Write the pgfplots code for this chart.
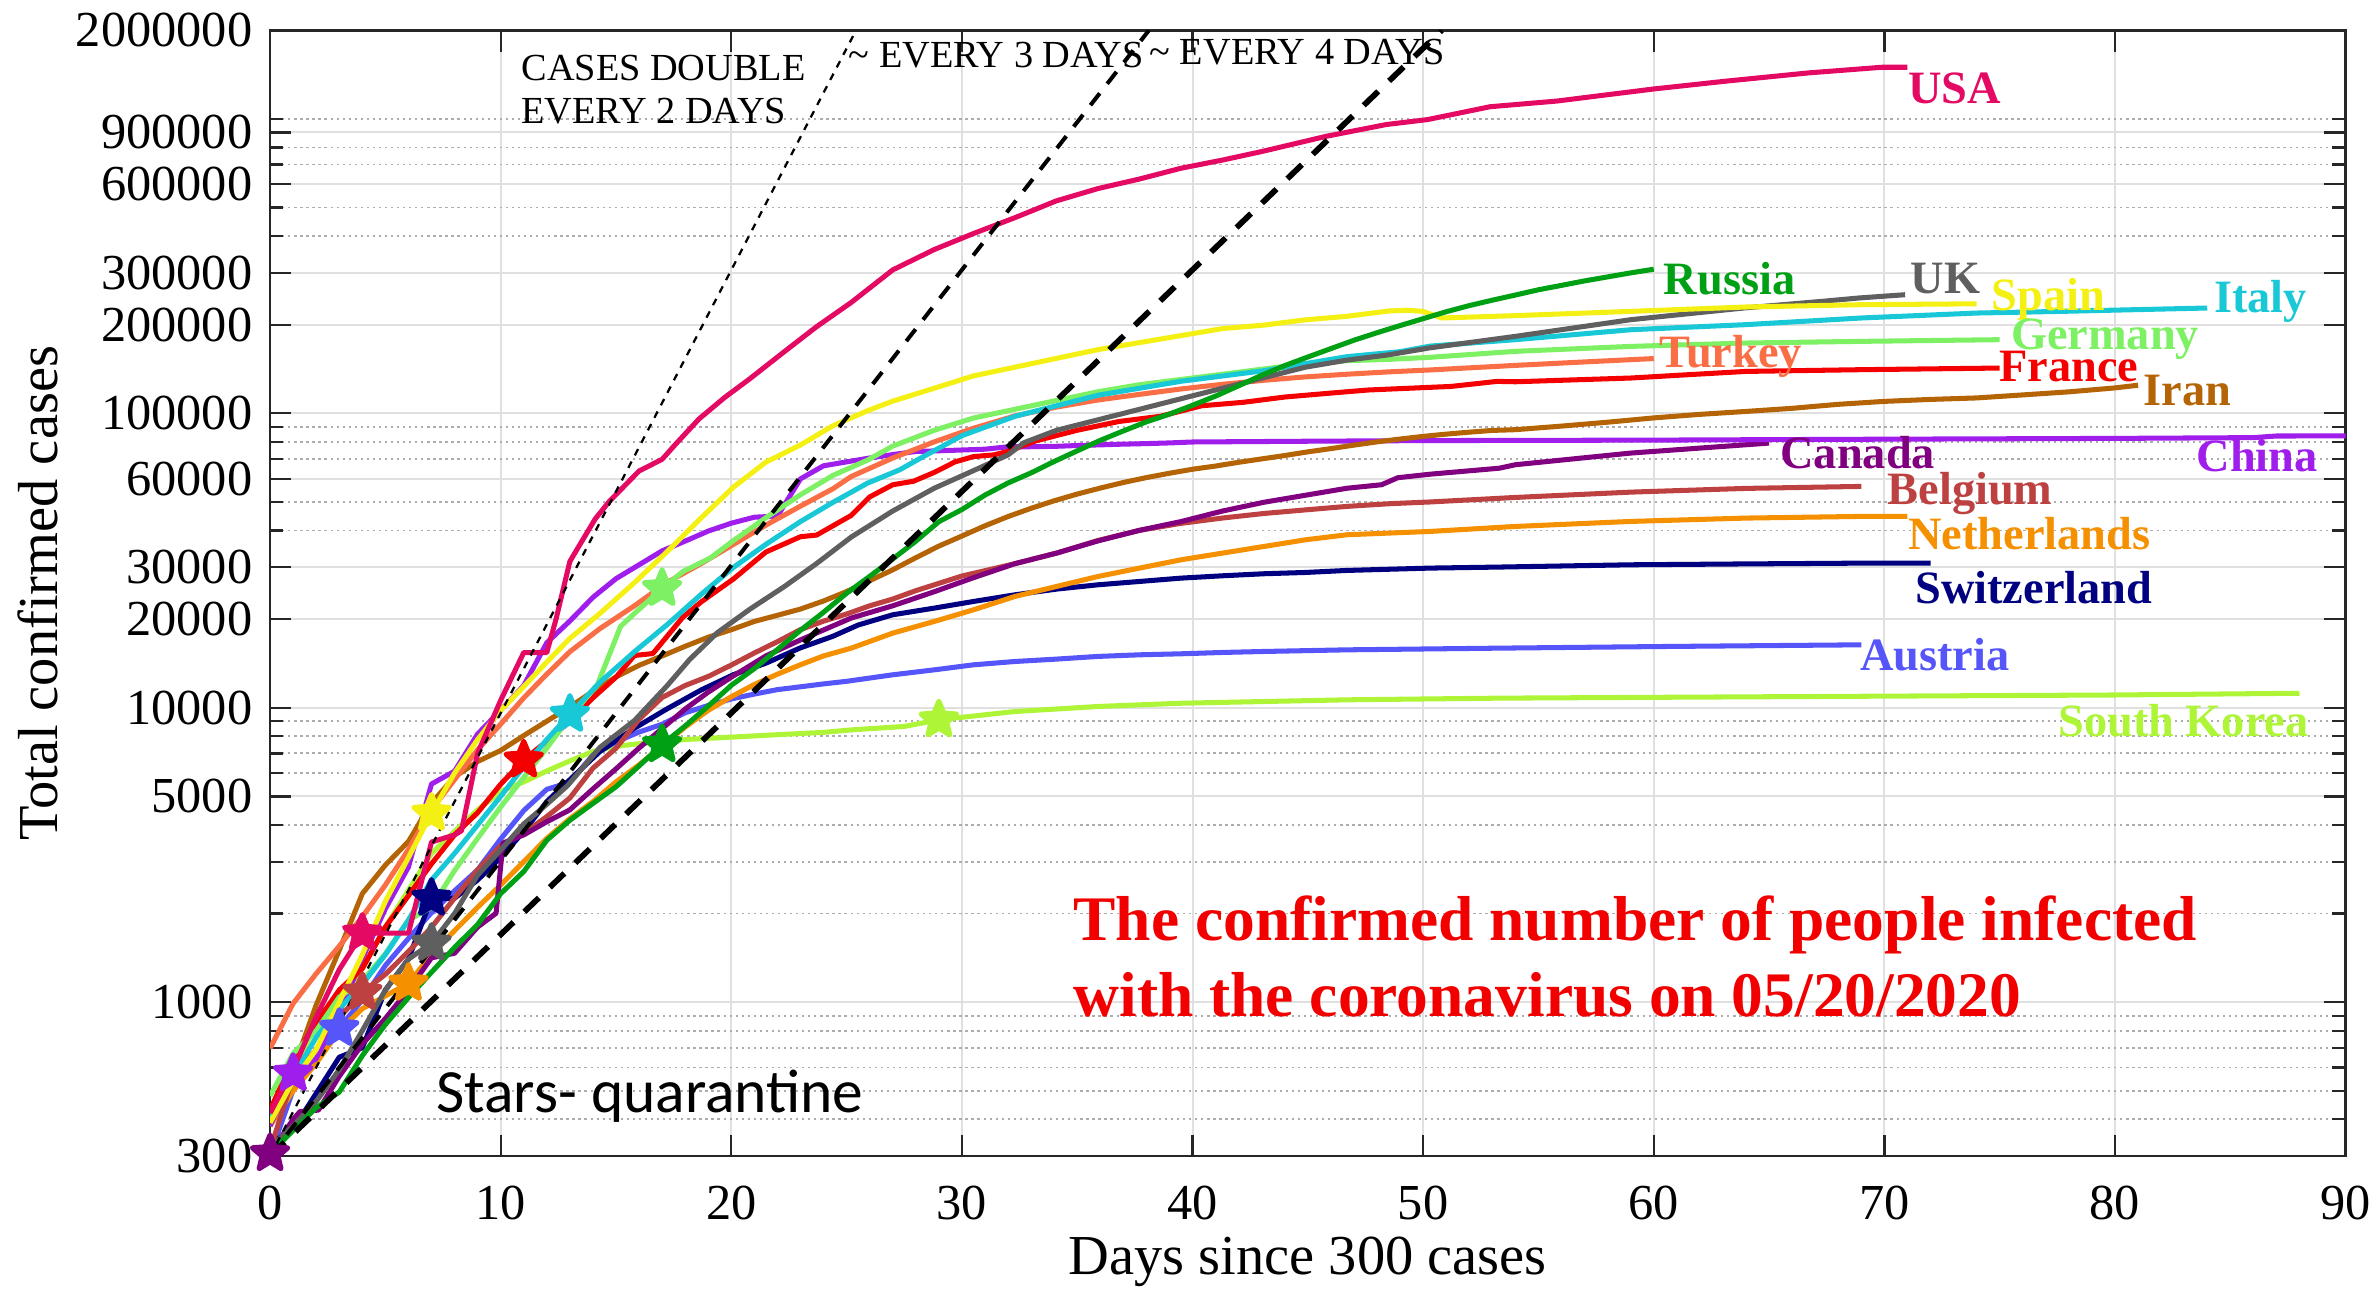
\documentclass[border=0pt]{standalone}
\usepackage{pgfplots}
\pgfplotsset{compat=1.18}
\usepackage{fontspec}
\setmainfont{Liberation Serif}
\newfontfamily\notefont{Carlito}

\definecolor{cUSA}{RGB}{228,10,100}
\definecolor{cRussia}{RGB}{0,160,20}
\definecolor{cUK}{RGB}{95,95,95}
\definecolor{cSpain}{RGB}{245,240,20}
\definecolor{cItaly}{RGB}{25,200,215}
\definecolor{cGermany}{RGB}{125,240,100}
\definecolor{cTurkey}{RGB}{250,110,70}
\definecolor{cFrance}{RGB}{245,0,0}
\definecolor{cIran}{RGB}{180,100,5}
\definecolor{cChina}{RGB}{160,30,235}
\definecolor{cCanada}{RGB}{128,0,128}
\definecolor{cBelgium}{RGB}{190,65,65}
\definecolor{cNether}{RGB}{245,145,0}
\definecolor{cSwiss}{RGB}{0,0,128}
\definecolor{cAustria}{RGB}{85,85,250}
\definecolor{cKorea}{RGB}{175,245,55}
\definecolor{axisgray}{RGB}{38,38,38}

% filled five-pointed star for the quarantine dates
\pgfdeclareplotmark{filledstar}{%
  \pgfpathmoveto{\pgfpointpolar{90}{\pgfplotmarksize}}%
  \pgfpathlineto{\pgfpointpolar{126}{0.45*\pgfplotmarksize}}%
  \pgfpathlineto{\pgfpointpolar{162}{\pgfplotmarksize}}%
  \pgfpathlineto{\pgfpointpolar{198}{0.45*\pgfplotmarksize}}%
  \pgfpathlineto{\pgfpointpolar{234}{\pgfplotmarksize}}%
  \pgfpathlineto{\pgfpointpolar{270}{0.45*\pgfplotmarksize}}%
  \pgfpathlineto{\pgfpointpolar{306}{\pgfplotmarksize}}%
  \pgfpathlineto{\pgfpointpolar{342}{0.45*\pgfplotmarksize}}%
  \pgfpathlineto{\pgfpointpolar{18}{\pgfplotmarksize}}%
  \pgfpathlineto{\pgfpointpolar{54}{0.45*\pgfplotmarksize}}%
  \pgfpathclose
  \pgfusepathqfillstroke
}

\tikzset{
  clab/.style={font=\fontsize{9.2}{11}\selectfont\bfseries, anchor=west, inner sep=0pt, text height=6.1bp, text depth=0pt},
  ann/.style={font=\fontsize{7.6}{9}\selectfont, anchor=west, inner sep=0pt, text height=5.0bp, text depth=0pt},
  qstar/.style={only marks, mark=filledstar, mark size=3.7pt},
}

\begin{document}
\begin{tikzpicture}
\begin{axis}[
  scale only axis,
  width=410.4bp, height=222.6bp,
  xmin=0, xmax=90, ymin=300, ymax=2000000,
  ymode=log,
  clip mode=individual,
  xtick={0,10,20,30,40,50,60,70,80,90},
  xticklabels={0,10,20,30,40,50,60,70,80,90},
  ytick={300,1000,5000,10000,20000,30000,60000,100000,200000,300000,600000,900000,2000000},
  yticklabels={300,1000,5000,10000,20000,30000,60000,100000,200000,300000,600000,900000,2000000},
  minor ytick={400,500,600,700,800,900,2000,3000,4000,6000,7000,8000,9000,40000,50000,70000,80000,90000,400000,500000,700000,800000,1000000},
  xmajorgrids, ymajorgrids, yminorgrids,
  major grid style={draw=black!12, line width=0.4pt},
  minor grid style={draw=black!32, line width=0.35pt, dash pattern=on 0.45pt off 0.75pt},
  tick align=inside,
  tick pos=both,
  major tick length=4.2bp, minor tick length=2.6bp,
  tick style={draw=axisgray, line width=0.45pt},
  axis line style={draw=axisgray, line width=0.5pt},
  ticklabel style={font=\fontsize{10}{12}\selectfont, text=black},
  xticklabel shift=2.4bp,
  xlabel={Days since 300 cases},
  ylabel={Total confirmed cases},
  label style={font=\fontsize{11.2}{13}\selectfont},
  xlabel style={at={(axis description cs:0.5,-0.0943)}, anchor=center},
  ylabel style={at={(axis description cs:-0.1118,0.5)}, anchor=center},
  every axis plot/.append style={line width=1.0pt, line join=round},
]

% ---- countries ----
\addplot[color=cKorea] coordinates {(0,430)(1,600)(2,830)(3,1000)(4,1300)(5,1800)(6,2400)(7,3200)(8,3800)(9,4500)(10,5200)(11,5600)(12,6100)(13,6600)(14,7100)(15,7400)(16,7550)(17,7650)(18,7800)(20,7950)(22,8100)(24,8250)(25.2,8410)(27.5,8640)(29,9100)(32.3,9710)(35.9,10100)(39.5,10360)(43.1,10500)(46.7,10640)(53.3,10780)(60,10850)(70,10950)(80,11050)(88,11200)};

\addplot[color=cAustria] coordinates {(0,302)(1,504)(2,655)(3,815)(4,1018)(5,1332)(6,1646)(7,2013)(8,2388)(9,2814)(10,3582)(11,4474)(12,5283)(13,5588)(14,6909)(15,7657)(16,8271)(17,8788)(18,9618)(19,10180)(20,10711)(21,11129)(22,11524)(23,11781)(24,12051)(25,12297)(27,12940)(28.8,13450)(30.5,13990)(32.3,14360)(34.1,14630)(35.9,14940)(37.7,15130)(39.5,15250)(41.3,15410)(43.1,15530)(46.7,15730)(53.3,15940)(60.6,16150)(69,16360)};

\addplot[color=cSwiss] coordinates {(0,330)(1,370)(2,490)(3,650)(4,700)(5,1100)(6,1400)(7,2254)(8,2254)(9,2600)(10,3100)(11,3800)(12,4800)(12.9,5600)(14.3,7100)(15.8,8520)(17.2,9900)(18.7,11500)(20.1,12960)(21.5,14170)(23,15980)(24.4,17480)(25.5,19100)(27,20690)(28.8,21800)(30.5,22960)(32.3,24190)(34.1,25290)(35.9,26160)(37.7,26850)(39.5,27560)(41.3,28070)(43.1,28520)(44.9,28810)(46.7,29270)(50.3,29810)(53.3,30050)(59,30590)(64,30800)(69,30990)(72,30990)};

\addplot[color=cNether] coordinates {(0,380)(1,500)(2,620)(3,800)(4,950)(5,1050)(6,1159)(7,1450)(8,1750)(9,2100)(10,2500)(11,3000)(12,3600)(13,4200)(14,4800)(15,5600)(16,6400)(17,7400)(18,8600)(19,9800)(20,10900)(21,12000)(22,13000)(23,14000)(24,15000)(25.2,15940)(27,17930)(28.8,19640)(30.5,21510)(32.3,23880)(34.1,25820)(35.9,27920)(37.7,29810)(39.5,31810)(41.3,33520)(43.1,35310)(44.9,37200)(46.7,38690)(48.5,39200)(50.3,39710)(54,41290)(59,42940)(64,44080)(69,44660)(71,44660)};

\addplot[color=cBelgium] coordinates {(0,314)(1,559)(2,689)(3,886)(4,1080)(5,1243)(6,1486)(7,1795)(8,2257)(9,2815)(10,3401)(11,3743)(12,4269)(13,4937)(14,6235)(15,7284)(16,9134)(17,10836)(18,11899)(19,12775)(20,13964)(21,15348)(22,16770)(23,18431)(24,19691)(25,20814)(26,22194)(27,23403)(28,24983)(30,28018)(32.3,30860)(34.1,33510)(35.9,37000)(37.7,40050)(39.5,42300)(41.3,44100)(43.1,45700)(44.9,47000)(46.7,48300)(48.5,49300)(50.3,50000)(54,51800)(59,54000)(64,55600)(69,56470)};

\addplot[color=cCanada] coordinates {(0,306)(1,400)(1.3,425)(2.1,430)(3,560)(4,720)(5,880)(6,1100)(7,1415)(8,1466)(9,1800)(9.8,2004)(10.1,3470)(11,3700)(12,4100)(13,4500)(14,5300)(15,6200)(16,7300)(17,8500)(18,9900)(19,11300)(20,12700)(21.5,15000)(23,17000)(25.2,20170)(27,22200)(28.8,24780)(30.5,27650)(32.3,30860)(34.1,33510)(35.9,36880)(37.7,40050)(39.5,42890)(41.3,46580)(43.1,49890)(44.9,52710)(46.7,55670)(48.2,57220)(48.9,60440)(50.3,62130)(53.3,65110)(54,66900)(59,73290)(65,79250)};

\addplot[color=cChina] coordinates {(0,380)(1,573)(2,643)(3,920)(4,1406)(5,2075)(6,2877)(7,5509)(8,6087)(9,8141)(10,9802)(11,11891)(12,16630)(13,19716)(14,23707)(15,27440)(16,30587)(17,34110)(18,36814)(19,39829)(20,42354)(21,44386)(22,44759)(23,59895)(24,66358)(25,68413)(26,70513)(27,72434)(28,74211)(29,74619)(30,75077)(31,75550)(32,77001)(33,77022)(34,77241)(35,77754)(36,78166)(37,78600)(38,78928)(39,79356)(40,79932)(45,80400)(50,80800)(60,81100)(70,81700)(80,82200)(86,82700)(87,83760)(90,83800)};

\addplot[color=cIran] coordinates {(0,388)(1,593)(2,978)(3,1501)(4,2336)(5,2922)(6,3513)(7,4747)(8,5823)(9,6566)(10,7161)(11,8042)(12,9000)(13,10075)(14,11364)(15,12729)(16,13938)(17,14991)(18,16169)(19,17361)(20,18407)(21,19644)(22,20610)(23,21638)(24,23049)(25,24811)(26,27017)(27,29406)(28,32332)(29,35408)(30,38309)(31,41495)(32,44605)(33,47593)(34,50468)(35,53183)(36,55743)(37,58226)(38,60500)(39,62589)(40,64586)(41,66220)(42,68192)(43,70029)(44,71900)(45,74000)(46,75900)(47,78000)(48,80000)(49,81800)(50,83500)(51,85000)(52,86300)(53,87500)(54,88000)(56,90500)(58,93300)(60,96500)(62,99200)(64,101500)(66,104000)(68,107300)(70,109800)(72,111500)(74,112800)(76,115500)(78,118300)(80,122000)(81,124600)};

\addplot[color=cFrance] coordinates {(0,430)(1,640)(2,850)(3,1100)(4,1300)(5,1800)(6,2300)(7,2950)(8,3700)(9,4400)(10,5500)(11,6650)(12,7700)(13,9000)(14,10800)(15,12700)(15.8,15050)(16.6,15280)(17.9,20300)(18.7,22900)(20.1,27400)(21.5,33800)(23,38100)(23.7,38600)(25.2,45000)(26,52000)(27,57200)(27.9,58800)(28.8,63000)(29.7,68400)(30.5,71300)(31.4,72300)(32,74300)(33.2,80600)(35,87600)(36.8,93800)(38.6,97700)(39.5,101800)(40.4,106100)(42.2,109000)(44,113600)(45.8,116800)(47.6,120000)(49.4,121700)(51.2,123400)(52.3,126100)(53.2,128400)(54,128000)(59,131800)(61.5,135300)(64,138800)(69,140700)(75,142500)};

\addplot[color=cTurkey] coordinates {(0,697)(1,990)(2,1250)(3,1550)(4,1950)(5,2500)(6,3300)(7,4500)(8,5700)(9,7200)(10,8800)(11,10800)(12,13000)(13,15500)(14.3,18560)(15.8,22200)(17.2,26600)(18.7,30900)(20.1,35900)(21.5,41700)(23,48400)(24.4,55400)(25.2,61000)(27,70500)(28.8,80000)(30.5,89000)(32.3,98000)(34.1,105000)(35.9,111000)(37.7,116000)(39.5,121000)(41.3,125500)(43.1,129500)(44.9,133000)(46.7,135800)(48.5,138300)(50.3,140400)(54,145500)(57,149500)(60,153500)};

\addplot[color=cGermany] coordinates {(0,480)(1,670)(2,800)(3,1040)(4,1180)(5,1460)(6,1900)(7,2100)(8,2800)(9,3600)(10,4600)(11,5800)(12,7300)(13,9300)(14.2,12000)(15.2,18900)(15.8,20900)(17,25420)(17.9,29000)(19.1,32300)(20.1,37000)(21.5,44200)(23,52900)(24.4,61500)(25.9,69300)(27,77400)(28.8,87600)(30.5,96400)(32.3,103200)(34.1,110600)(35.9,118400)(37.7,125100)(39.5,130300)(41.3,135800)(43.1,141500)(44.9,147500)(46.7,151000)(48.5,152500)(50.3,155000)(54,162400)(59,168800)(64,173300)(69,175600)(75,177900)};

\addplot[color=cItaly] coordinates {(0,400)(1,560)(2,760)(3,950)(4,1150)(5,1450)(6,1900)(7,2600)(8,3200)(9,4000)(10,5000)(11,6300)(12,7800)(13,9500)(14.3,12200)(15.8,15500)(17.2,19100)(18.7,24300)(20.1,30000)(21.5,35900)(23,42900)(24.4,49800)(25.9,57900)(27.3,64300)(28.2,70400)(30,84000)(32.3,97700)(35.9,115200)(39.5,128500)(43.1,139600)(46.7,155800)(49,162000)(50.3,169200)(54,177900)(59,192300)(64,200100)(69,210800)(74,219100)(77.7,222000)(84,227900)};

\addplot[color=cUK] coordinates {(0,320)(1,380)(2,460)(3,590)(4,800)(5,1100)(6,1400)(7,1585)(8,2000)(9,2700)(10,3290)(11,4030)(12,4700)(12.9,5440)(14.3,7330)(15.8,9050)(17.2,11840)(18.2,14600)(19.4,18000)(20.8,21600)(22.3,25800)(23.7,30900)(25.2,38000)(27,46580)(28.8,55670)(30.5,63870)(32,72260)(32.7,79560)(34.1,87560)(35.9,95070)(37.7,103200)(39.5,112100)(41.3,121700)(43.1,132200)(44.9,143500)(46.7,151600)(48.5,158000)(50.3,166900)(54,182600)(59,208000)(63.9,227900)(67.3,240100)(68.9,246500)(70.9,252900)};

\addplot[color=cSpain] coordinates {(0,390)(1,540)(2,690)(3,1000)(4,1450)(5,2200)(6,3100)(7,4385)(8,6000)(9,7800)(10,9800)(11,11800)(12,14300)(13,17200)(14.3,20900)(15.8,26600)(17.2,33800)(18.7,44200)(20.1,56200)(21.5,68300)(23,78100)(24.4,90700)(25.9,102000)(27,110000)(28.8,121700)(30.5,134000)(32.3,143500)(34.1,153700)(35.9,164600)(37.7,173900)(39.5,183700)(41.3,194100)(43.1,199400)(44.9,207800)(46.7,213600)(48.5,222600)(49.3,224000)(50,222000)(50.8,210800)(54,214700)(59,222000)(64,229700)(69,233900)(74,235500)};

\addplot[color=cRussia] coordinates {(0,306)(1,367)(2,438)(3,495)(4,658)(5,840)(6,1036)(7,1264)(8,1534)(9,1836)(10,2337)(11,2777)(12,3548)(13,4149)(14,4731)(15,5389)(16,6343)(17,7497)(18,8672)(19,10131)(20,11917)(21,13584)(22,15770)(23,18328)(24,21102)(25,24490)(26,27938)(27,32008)(28,36793)(29,42853)(30,47121)(31,52763)(32,57999)(33,62773)(34,68622)(35,74588)(36,80949)(37,87147)(38,93558)(39,99399)(40,106498)(41,114431)(42,124054)(43,134686)(44,145268)(45,155370)(46,165929)(47,177160)(48,187859)(49,198676)(50,209688)(51,221344)(52,232243)(53,242271)(54,252245)(55,262843)(56,272043)(57,281752)(58,290678)(59,299941)(60,308705)};

\addplot[color=cUSA] coordinates {(0,420)(1,590)(2,890)(3,1290)(4,1715)(5,1715)(6,1715)(7,3500)(8,3700)(8.3,3820)(9,7000)(10,10600)(11,15400)(12,15400)(12.4,20000)(13,31400)(13.3,34400)(14.1,43800)(14.7,50100)(16,63700)(17,69800)(17.6,78800)(18.6,95700)(19.7,113000)(20.8,131000)(22.3,162000)(23.7,197000)(25.2,238000)(27,307000)(28.8,360000)(30.5,408000)(32.3,462000)(34.1,527000)(35.9,580000)(37.7,625000)(39.5,680000)(41.3,725000)(43,775000)(45.8,873000)(48.4,957000)(50.2,995000)(52.9,1100000)(55.8,1150000)(60,1264000)(63.1,1343000)(66.7,1433000)(69.9,1498000)(71,1498000)};

% ---- reference doubling lines ----
\addplot[black, line width=0.45pt, dash pattern=on 1.4pt off 1.4pt] coordinates {(0,300)(25.41,2000000)};
\addplot[black, line width=0.8pt, dash pattern=on 3pt off 2.4pt] coordinates {(0,300)(38.11,2000000)};
\addplot[black, line width=1.15pt, dash pattern=on 4pt off 3pt] coordinates {(0,300)(50.81,2000000)};

% ---- quarantine dates ----
\addplot[qstar, color=cCanada] coordinates {(0,306)};
\addplot[qstar, color=cChina] coordinates {(1,573)};
\addplot[qstar, color=cAustria] coordinates {(3,815)};
\addplot[qstar, color=cUSA] coordinates {(4,1715)};
\addplot[qstar, color=cBelgium] coordinates {(4,1080)};
\addplot[qstar, color=cNether] coordinates {(6,1159)};
\addplot[qstar, color=cSpain] coordinates {(7,4385)};
\addplot[qstar, color=cSwiss] coordinates {(7,2254)};
\addplot[qstar, color=cUK] coordinates {(7,1585)};
\addplot[qstar, color=cFrance] coordinates {(11,6650)};
\addplot[qstar, color=cItaly] coordinates {(13,9500)};
\addplot[qstar, color=cGermany] coordinates {(17,25420)};
\addplot[qstar, color=cRussia] coordinates {(17,7497)};
\addplot[qstar, color=cKorea] coordinates {(29,9100)};

% ---- country names ----
\node[clab, text=cUSA] at (axis cs:71.0,1268000) {USA};
\node[clab, text=cRussia] at (axis cs:60.4,286700) {Russia};
\node[clab, text=cUK] at (axis cs:71.1,289000) {UK};
\node[clab, text=cSpain] at (axis cs:74.6,251600) {Spain};
\node[clab, text=cItaly] at (axis cs:84.25,248400) {Italy};
\node[clab, text=cTurkey] at (axis cs:60.2,162000) {Turkey};
\node[clab, text=cGermany] at (axis cs:75.45,186400) {Germany};
\node[clab, text=cFrance] at (axis cs:74.95,144400) {France};
\node[clab, text=cIran] at (axis cs:81.2,120300) {Iran};
\node[clab, text=cCanada] at (axis cs:65.45,73300) {Canada};
\node[clab, text=cChina] at (axis cs:83.5,71400) {China};
\node[clab, text=cBelgium] at (axis cs:70.1,55300) {Belgium};
\node[clab, text=cNether] at (axis cs:71.0,39000) {Netherlands};
\node[clab, text=cSwiss] at (axis cs:71.3,25500) {Switzerland};
\node[clab, text=cAustria] at (axis cs:68.9,15130) {Austria};
\node[clab, text=cKorea] at (axis cs:77.5,8980) {South Korea};

% ---- annotations ----
\node[ann] at (axis cs:10.86,1489000) {CASES DOUBLE};
\node[ann] at (axis cs:10.86,1068000) {EVERY 2 DAYS};
\node[ann] at (axis cs:25.05,1645000) {\textasciitilde{} EVERY 3 DAYS};
\node[ann] at (axis cs:38.1,1690000) {\textasciitilde{} EVERY 4 DAYS};

\node[text=red!95!black, font=\fontsize{12.6}{15}\selectfont\bfseries, anchor=west, inner sep=0pt, text height=8.3bp, text depth=0pt] at (axis cs:34.8,1911) {The confirmed number of people infected};
\node[text=red!95!black, font=\fontsize{12.6}{15}\selectfont\bfseries, anchor=west, inner sep=0pt, text height=8.3bp, text depth=0pt] at (axis cs:34.8,1056) {with the coronavirus on 05/20/2020};

\node[font=\notefont\fontsize{12.2}{14}\selectfont, anchor=west, inner sep=0pt, text height=7.9bp, text depth=0pt] at (axis cs:7.17,494) {Stars- quarantine};

\end{axis}
\pgfresetboundingbox
\path (current axis.south west) ++(-53.4bp,-27bp) rectangle ++(470.4bp,255.6bp);
\end{tikzpicture}
\end{document}
